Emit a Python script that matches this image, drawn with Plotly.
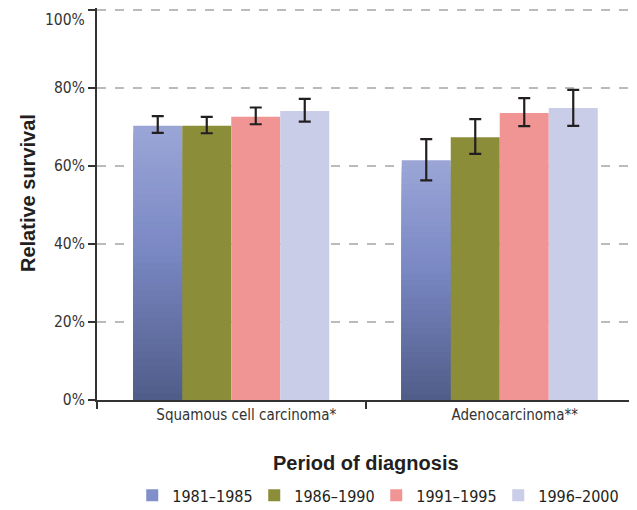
import plotly.graph_objects as go

categories = ["Squamous cell carcinoma*", "Adenocarcinoma**"]
periods = ["1981–1985", "1986–1990", "1991–1995", "1996–2000"]
values = {
    "1981–1985": [70.3, 61.5],
    "1986–1990": [70.3, 67.4],
    "1991–1995": [72.6, 73.6],
    "1996–2000": [74.1, 74.9],
}
upper = {
    "1981–1985": [72.8, 66.9],
    "1986–1990": [72.6, 72.0],
    "1991–1995": [75.0, 77.4],
    "1996–2000": [77.2, 79.5],
}
lower = {
    "1981–1985": [68.5, 56.3],
    "1986–1990": [68.4, 63.1],
    "1991–1995": [70.7, 70.2],
    "1996–2000": [71.4, 70.3],
}
y_ticks = [0, 20, 40, 60, 80, 100]
y_tick_labels = ["0%", "20%", "40%", "60%", "80%", "100%"]

colors = {"1986–1990": "#8b8d39", "1991–1995": "#f09593", "1996–2000": "#c9cde8"}
# gradient stops for first period (fraction from bottom -> rgb)
grad_stops = [(0.0, (80, 92, 136)), (0.55, (122, 136, 196)), (1.0, (155, 166, 215))]

def grad_color(f):
    for (f0, c0), (f1, c1) in zip(grad_stops[:-1], grad_stops[1:]):
        if f0 <= f <= f1:
            t = (f - f0) / (f1 - f0)
            c = [round(a + (b - a) * t) for a, b in zip(c0, c1)]
            return "rgb(%d,%d,%d)" % tuple(c)
    return "rgb(%d,%d,%d)" % grad_stops[-1][1]

err_color = "#231f20"
fig = go.Figure()

N = 40
p0 = periods[0]
v0 = values[p0]
# nested bars, tallest first, so the gradient has no seams
for i in range(N):
    frac = (N - i) / N
    fig.add_trace(go.Bar(
        x=categories,
        y=[v * frac for v in v0],
        marker=dict(color=grad_color(frac - 0.5 / N), line=dict(width=0)),
        offsetgroup="g0",
        name=p0,
        legendgroup=p0,
        showlegend=(i == N // 3),
        hoverinfo="skip",
    ))

for k, p in enumerate(periods[1:], start=1):
    v = values[p]
    fig.add_trace(go.Bar(
        x=categories, y=v, name=p, offsetgroup="g%d" % k,
        marker=dict(color=colors[p], line=dict(width=0)),
        error_y=dict(type="data", array=[u - a for u, a in zip(upper[p], v)],
                     arrayminus=[a - l for a, l in zip(v, lower[p])],
                     color=err_color, thickness=2.2, width=6),
    ))

# error bars of the first series drawn above the nested bars on a transparent bar
fig.add_trace(go.Bar(
    x=categories, y=v0, offsetgroup="g0", showlegend=False, hoverinfo="skip",
    marker=dict(color="rgba(0,0,0,0)", line=dict(width=0)),
    error_y=dict(type="data", array=[u - v for u, v in zip(upper[p0], v0)],
                 arrayminus=[v - l for v, l in zip(v0, lower[p0])],
                 color=err_color, thickness=2.2, width=6),
))

narrow = "DejaVu Sans Condensed, Liberation Sans Narrow, sans-serif"
bold = "Liberation Sans, Arial, sans-serif"
W, H = 629, 502
L, T, R, B = 89, 0, 3, 110
pw, ph = W - L - R, H - T - B
y_top = 100 * ph / (ph - 2)  # leave 2px above the 100% grid line
# the top tick label would be clipped by the page edge: show it as an annotation just below
axis_labels = list(y_tick_labels[:-1]) + [""]
fig.update_layout(
    width=W, height=H,
    margin=dict(l=L, r=R, t=T, b=B, autoexpand=False),
    barmode="group", bargap=0.27, bargroupgap=0,
    plot_bgcolor="white", paper_bgcolor="white",
    font=dict(family=narrow, size=15.5, color="#333333"),
    showlegend=True,
    legend=dict(orientation="h", x=0.52, xanchor="center", y=-0.2, yanchor="top",
                font=dict(family=narrow, size=16, color="#231f20"),
                entrywidth=77, itemwidth=30, traceorder="normal"),
    xaxis=dict(
        type="category", showline=True, linecolor="#333333", linewidth=2,
        ticks="outside", tickson="boundaries", ticklen=7, tickwidth=2, tickcolor="#333333",
        ticklabelshift=15,
        tickfont=dict(family=narrow, size=15, color="#333333"),
    ),
    yaxis=dict(
        range=[0, y_top], tickvals=y_ticks, ticktext=axis_labels,
        showline=True, linecolor="#333333", linewidth=2,
        ticks="outside", ticklen=7, tickwidth=2, tickcolor="#333333",
        showgrid=True, gridcolor="#bbbbbb", griddash="dash", gridwidth=1.5,
        zeroline=False,
        tickfont=dict(family=narrow, size=15.5, color="#333333"),
    ),
    annotations=[
        dict(text=y_tick_labels[-1], xref="paper", yref="y", x=0, y=y_ticks[-1],
             xanchor="right", yanchor="top", xshift=-10, yshift=1, showarrow=False,
             font=dict(family=narrow, size=15.5, color="#333333")),
        dict(text="<b>Period of diagnosis</b>", xref="paper", yref="paper",
             x=(358 - L) / pw, y=(392 - 455) / ph, xanchor="center", yanchor="middle",
             showarrow=False, font=dict(family=bold, size=20, color="#231f20")),
        dict(text="<b>Relative survival</b>", xref="paper", yref="paper",
             x=(20 - L) / pw, y=(392 - 185) / ph, xanchor="center", yanchor="middle",
             textangle=-90, showarrow=False, font=dict(family=bold, size=20, color="#231f20")),
    ],
)

fig.write_html("out.html")
